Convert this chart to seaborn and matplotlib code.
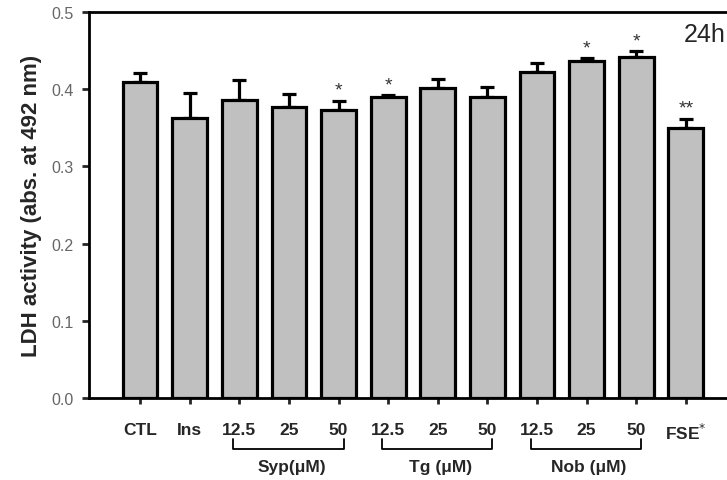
import matplotlib
matplotlib.use("Agg")
import matplotlib.pyplot as plt
import seaborn as sns
import pandas as pd

sns.set_theme(style="white")
plt.rcParams['font.family'] = ['Liberation Sans', 'DejaVu Sans']

# ---- data ----
bar_ids = ["CTL", "Ins", "Syp12.5", "Syp25", "Syp50", "Tg12.5", "Tg25", "Tg50",
           "Nob12.5", "Nob25", "Nob50", "FSE"]
tick_labels = ["CTL", "Ins", "12.5", "25", "50", "12.5", "25", "50",
               "12.5", "25", "50", "FSE$^{*}$"]
means = [0.409, 0.363, 0.386, 0.377, 0.373, 0.390, 0.402, 0.390,
         0.422, 0.437, 0.442, 0.350]
err_up = [0.012, 0.032, 0.026, 0.017, 0.012, 0.002, 0.011, 0.013,
          0.012, 0.003, 0.007, 0.012]
stars = ["", "", "", "", "*", "*", "", "", "", "*", "*", "**"]
groups = [("Syp(\u03bcM)", 2, 4), ("Tg (\u03bcM)", 5, 7), ("Nob (\u03bcM)", 8, 10)]
y_ticks = [0.0, 0.1, 0.2, 0.3, 0.4, 0.5]

df = pd.DataFrame({"id": bar_ids, "mean": means})

fig = plt.figure(figsize=(7.27, 4.81), dpi=100)
ax = fig.add_axes([89/727, 82/481, 1 - 89/727, (399-13)/481])

sns.barplot(data=df, x="id", y="mean", order=bar_ids, color="#c0c0c0",
            saturation=1, edgecolor="black", linewidth=2.3, width=0.7, ax=ax,
            errorbar=None, zorder=3)

xs = list(range(len(bar_ids)))
ax.errorbar(xs, means, yerr=[[0]*len(means), err_up], fmt="none",
            ecolor="black", elinewidth=2.3, capsize=5, capthick=2.3, zorder=2)

for x, m, e, s in zip(xs, means, err_up, stars):
    if s:
        ax.text(x, m + e + 0.003, s, ha="center", va="bottom",
                fontsize=14, color="#333333")

ax.set_xlim(-1.03, 11.83)
ax.set_ylim(0, 0.5)
ax.set_yticks(y_ticks)
ax.set_yticklabels([f"{v:.1f}" for v in y_ticks], color="#666666", fontsize=11.5)
ax.set_xticks(xs)
ax.set_xticklabels(tick_labels, fontweight="bold", fontsize=12.5)
ax.set_xlabel("")
ax.set_ylabel("LDH activity (abs. at 492 nm)", fontweight="bold", fontsize=16,
              labelpad=7)

for side in ["left", "bottom", "top"]:
    ax.spines[side].set_linewidth(2)
    ax.spines[side].set_color("black")
ax.spines["right"].set_visible(False)

ax.tick_params(axis="y", direction="out", length=5, width=2, pad=6, left=True)
ax.tick_params(axis="x", direction="out", length=4, width=2, pad=13, bottom=True)

# group brackets
for label, a, b in groups:
    x0, x1 = a - 0.12, b + 0.1
    ax.plot([x0, x0, x1, x1], [-0.053, -0.066, -0.066, -0.053], color="black",
            lw=1.3, clip_on=False)
    ax.text((a + b) / 2 + 0.05, -0.089, label, ha="center", va="center",
            fontweight="bold", fontsize=12.5, clip_on=False)

ax.text(702/727, 1 - (35-13)/(399-13), "24h", transform=ax.transAxes,
        ha="center", va="center", fontsize=18)

fig.savefig("out.png", dpi=100)
